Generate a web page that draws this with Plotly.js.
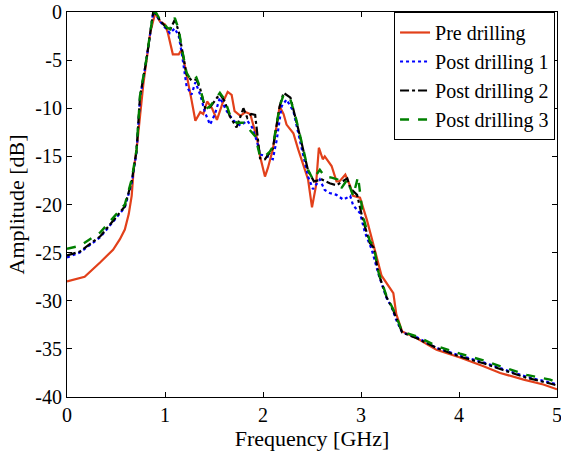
<!DOCTYPE html>
<html>
<head>
<meta charset="utf-8">
<script src="https://cdn.plot.ly/plotly-3.0.1.min.js"></script>
<style>html,body{margin:0;padding:0;background:#fff;}#chart{width:561px;height:451px;}</style>
</head>
<body>
<div id="chart"></div>
<script>
const preX = [0,0.18,0.34,0.47,0.54,0.59,0.63,0.66,0.68,0.71,0.78,0.85,0.90,0.95,1.00,1.03,1.08,1.14,1.17,1.22,1.27,1.31,1.36,1.39,1.43,1.48,1.53,1.59,1.64,1.68,1.71,1.77,1.82,1.87,1.94,1.97,2.02,2.05,2.10,2.17,2.21,2.24,2.31,2.36,2.43,2.46,2.50,2.54,2.57,2.61,2.63,2.70,2.75,2.78,2.84,2.89,2.92,2.99,3.06,3.13,3.21,3.33,3.36,3.42,3.57,3.77,4.01,4.25,4.42,4.66,4.86,5.0];
const preY = [-28.0,-27.5,-26.0,-24.7,-23.6,-22.6,-21.0,-19.1,-16.4,-14.3,-7.4,-2.1,-0.1,-1.0,-1.3,-2.2,-4.4,-4.4,-3.9,-6.7,-9.1,-11.3,-10.4,-10.6,-9.3,-10.0,-11.2,-9.4,-8.3,-8.6,-10.3,-10.8,-10.4,-10.6,-13.2,-15.0,-17.1,-16.2,-14.3,-9.8,-10.6,-11.7,-12.6,-14.3,-16.4,-17.4,-20.3,-18.1,-14.1,-15.3,-15.0,-16.0,-17.6,-17.6,-16.9,-18.1,-19.1,-19.3,-21.6,-24.2,-27.4,-29.2,-31.4,-33.2,-33.9,-35.1,-35.9,-36.8,-37.5,-38.2,-38.7,-39.2];

const post1X = [0,0.13,0.34,0.59,0.66,0.71,0.745,0.81,0.88,0.91,0.95,1.02,1.05,1.10,1.14,1.17,1.22,1.27,1.31,1.36,1.41,1.46,1.51,1.56,1.63,1.70,1.77,1.84,1.89,1.94,1.97,2.04,2.10,2.14,2.19,2.24,2.31,2.38,2.46,2.51,2.58,2.63,2.68,2.75,2.82,2.89,2.92,2.99,3.04,3.11,3.18,3.26,3.31,3.36,3.42,3.57,3.77,4.01,4.25,4.45,4.69,4.93,5.0];
const post1Y = [-25.5,-25.0,-23.4,-20.3,-17.8,-14.5,-9.0,-5.0,0,-0.3,-1.0,-1.9,-2.2,-1.7,-2.5,-4.2,-7.7,-8.6,-7.3,-8.6,-10.5,-11.7,-10.6,-8.9,-10.3,-11.3,-11.8,-11.3,-12.0,-13.5,-14.8,-15.0,-15.3,-13.3,-9.8,-9.1,-10.3,-13.5,-17.1,-18.4,-17.4,-18.5,-18.8,-19.0,-19.5,-19.1,-20.1,-20.9,-22.9,-24.7,-27.3,-29.7,-30.6,-32.0,-33.3,-33.8,-34.9,-35.7,-36.4,-37.1,-37.9,-38.5,-38.7];

const post2X = [0,0.13,0.34,0.59,0.66,0.71,0.745,0.81,0.88,0.91,0.95,1.02,1.05,1.10,1.14,1.17,1.22,1.27,1.32,1.36,1.41,1.46,1.51,1.56,1.61,1.66,1.73,1.78,1.80,1.84,1.88,1.92,1.95,1.97,2.02,2.07,2.10,2.17,2.21,2.28,2.33,2.38,2.46,2.48,2.52,2.60,2.68,2.75,2.86,2.89,2.96,3.02,3.09,3.13,3.18,3.26,3.33,3.36,3.42,3.57,3.77,4.01,4.25,4.45,4.69,4.93,5.0];
const post2Y = [-25.3,-24.9,-23.3,-20.2,-17.6,-14.4,-8.8,-5.0,0,-0.2,-0.9,-1.7,-1.9,-0.8,-2.0,-3.8,-6.5,-7.1,-7.0,-8.0,-10.0,-9.9,-9.2,-8.5,-9.3,-10.8,-12.0,-10.5,-10.0,-11.0,-10.6,-10.7,-13.5,-15.2,-15.3,-14.6,-14.2,-9.8,-8.4,-8.9,-10.9,-13.0,-16.5,-16.9,-17.6,-17.4,-17.8,-18.0,-17.3,-18.3,-19.0,-21.6,-24.0,-24.5,-27.2,-29.6,-31.0,-31.8,-33.3,-33.9,-34.9,-35.8,-36.5,-37.2,-38.0,-38.6,-38.8];

const post3X = [0,0.13,0.34,0.59,0.66,0.71,0.745,0.81,0.88,0.91,0.95,1.02,1.05,1.10,1.14,1.17,1.22,1.27,1.32,1.36,1.41,1.46,1.51,1.56,1.61,1.66,1.73,1.80,1.86,1.92,1.97,2.02,2.07,2.10,2.17,2.21,2.28,2.33,2.38,2.46,2.51,2.58,2.63,2.70,2.76,2.80,2.86,2.92,2.97,2.99,3.02,3.09,3.13,3.18,3.26,3.33,3.36,3.42,3.57,3.77,4.01,4.25,4.45,4.69,4.93,5.0];
const post3Y = [-24.6,-24.3,-22.9,-20.0,-17.4,-14.3,-8.7,-4.9,0,-0.1,-0.8,-1.6,-1.8,-0.6,-1.8,-3.7,-6.3,-7.2,-6.8,-7.9,-10.1,-9.8,-9.1,-8.4,-9.1,-10.6,-11.5,-11.5,-12.2,-12.9,-15.0,-15.0,-14.5,-14.0,-9.8,-8.6,-9.1,-10.8,-12.9,-16.4,-17.4,-16.4,-17.1,-17.2,-17.4,-18.3,-17.4,-19.1,-17.1,-18.7,-21.2,-23.8,-24.3,-27.1,-29.5,-30.9,-31.7,-33.2,-33.7,-34.7,-35.5,-36.2,-36.9,-37.7,-38.2,-38.5];

const seriesNames = ["Pre drilling","Post drilling 1","Post drilling 2","Post drilling 3"];
const xTickVals = [0,1,2,3,4,5];
const xTickText = ["0","1","2","3","4","5"];
const yTickVals = [0,-5,-10,-15,-20,-25,-30,-35,-40];
const yTickText = ["0","-5","-10","-15","-20","-25","-30","-35","-40"];

const font = "'Liberation Serif', 'Times New Roman', serif";

const traces = [
  {x: preX, y: preY, name: seriesNames[0], legendgroup: 'a', mode: 'lines', line: {color: '#e2401a', width: 2.2, dash: 'solid'}},
  {x: post1X, y: post1Y, name: seriesNames[1], legendgroup: 'b', mode: 'lines', line: {color: '#0000ff', width: 2.2, dash: 'dot'}},
  {x: post2X, y: post2Y, name: seriesNames[2], legendgroup: 'c', mode: 'lines', line: {color: '#000000', width: 2.2, dash: 'dashdot'}},
  {x: post3X, y: post3Y, name: seriesNames[3], legendgroup: 'd', mode: 'lines', line: {color: '#008000', width: 2.4, dash: 'dash'}}
];

const axisCommon = {
  showline: true, linecolor: '#000', linewidth: 1, mirror: 'ticks',
  ticks: 'inside', ticklen: 5, tickcolor: '#000', tickwidth: 1,
  showgrid: false, zeroline: false, ticklabeloverflow: 'allow',
  tickfont: {family: font, size: 20, color: '#000'}
};

const layout = {
  width: 561, height: 451,
  margin: {l: 67, r: 4, t: 12, b: 54},
  paper_bgcolor: '#fff', plot_bgcolor: '#fff',
  font: {family: font, color: '#000'},
  showlegend: true,
  xaxis: Object.assign({}, axisCommon, {
    range: [0, 5], tickvals: xTickVals, ticktext: xTickText, ticklabelstandoff: 0,
    title: {text: 'Frequency [GHz]', font: {family: font, size: 22, color: '#000'}, standoff: 1}
  }),
  yaxis: Object.assign({}, axisCommon, {
    range: [-40, 0], tickvals: yTickVals, ticktext: yTickText,
    title: {text: 'Amplitude [dB]', font: {family: font, size: 22, color: '#000'}, standoff: 4}
  }),
  legend: {
    x: 0.996, y: 1, xanchor: 'right', yanchor: 'top',
    bgcolor: '#fff', bordercolor: '#000', borderwidth: 1,
    font: {family: font, size: 20, color: '#000'},
    tracegroupgap: 0
  }
};

Plotly.newPlot('chart', traces, layout, {staticPlot: true, displayModeBar: false});
</script>
</body>
</html>
